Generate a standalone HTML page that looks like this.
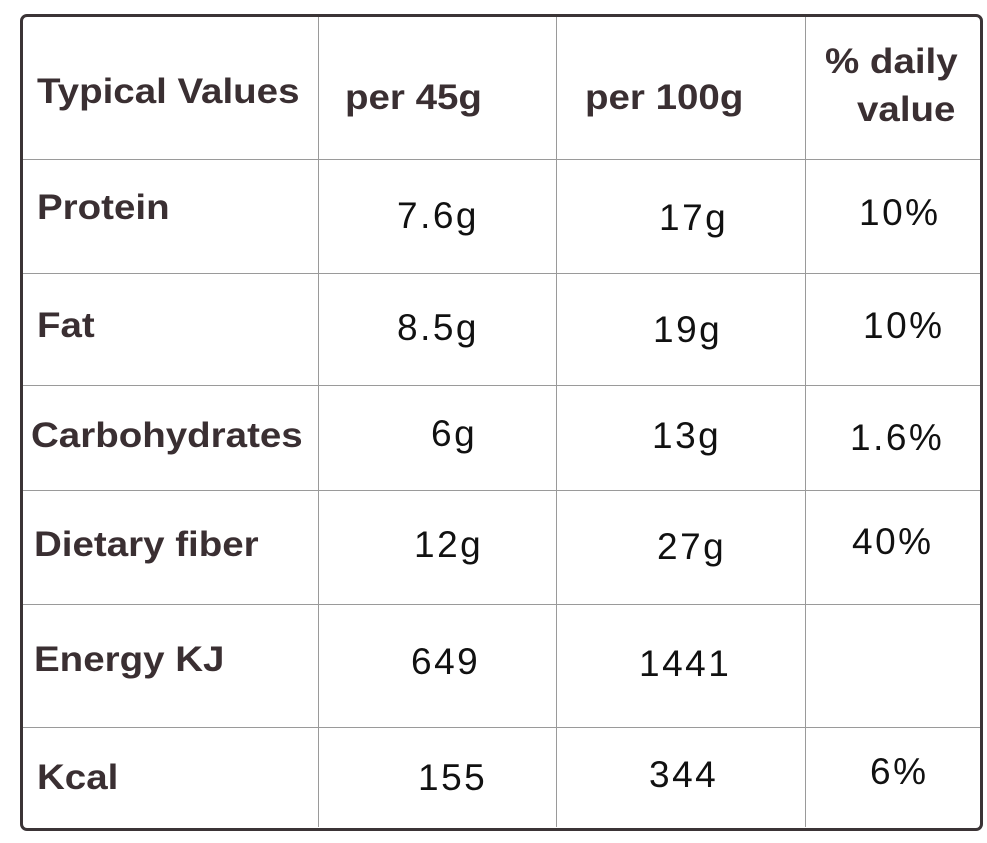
<!DOCTYPE html>
<html><head><meta charset="utf-8">
<style>
body{margin:0;width:987px;height:843px;background:#fff;position:relative;overflow:hidden;font-family:"Liberation Sans",sans-serif;}
.frame{position:absolute;left:20px;top:14px;width:957px;height:811px;border:3px solid #3b3436;border-radius:7px;}
.vl{position:absolute;width:1px;background:#9a9a9a;top:17px;height:810px;}
.hl{position:absolute;height:1px;background:#9a9a9a;left:23px;width:957px;}
.t{position:absolute;white-space:nowrap;transform-origin:left center;}
.h{font-weight:bold;color:#3a2f32;font-size:35px;transform:translateY(-50%) scaleX(1.1);}
.v{color:#111;font-size:37px;letter-spacing:2.5px;transform:translateY(-50%);}
</style></head><body>
<div class="frame"></div>
<div class="vl" style="left:318px"></div>
<div class="vl" style="left:556px"></div>
<div class="vl" style="left:805px"></div>
<div class="hl" style="top:159px"></div>
<div class="hl" style="top:273px"></div>
<div class="hl" style="top:385px"></div>
<div class="hl" style="top:490px"></div>
<div class="hl" style="top:604px"></div>
<div class="hl" style="top:727px"></div>

<div class="t h" style="left:37px;top:92px">Typical Values</div>
<div class="t h" style="left:345px;top:98px">per 45g</div>
<div class="t h" style="left:585px;top:98px">per 100g</div>
<div class="t h" style="left:825px;top:62px">% daily</div>
<div class="t h" style="left:857px;top:110px">value</div>

<div class="t h" style="left:37px;top:208px">Protein</div>
<div class="t v" style="left:397px;top:216px">7.6g</div>
<div class="t v" style="left:659px;top:218px">17g</div>
<div class="t v" style="left:859px;top:213px">10%</div>

<div class="t h" style="left:37px;top:326px">Fat</div>
<div class="t v" style="left:397px;top:328px">8.5g</div>
<div class="t v" style="left:653px;top:330px">19g</div>
<div class="t v" style="left:863px;top:326px">10%</div>

<div class="t h" style="left:31px;top:436px">Carbohydrates</div>
<div class="t v" style="left:431px;top:434px">6g</div>
<div class="t v" style="left:652px;top:436px">13g</div>
<div class="t v" style="left:850px;top:438px">1.6%</div>

<div class="t h" style="left:34px;top:545px">Dietary fiber</div>
<div class="t v" style="left:414px;top:545px">12g</div>
<div class="t v" style="left:657px;top:547px">27g</div>
<div class="t v" style="left:852px;top:542px">40%</div>

<div class="t h" style="left:34px;top:660px">Energy KJ</div>
<div class="t v" style="left:411px;top:662px">649</div>
<div class="t v" style="left:639px;top:664px">1441</div>

<div class="t h" style="left:37px;top:778px">Kcal</div>
<div class="t v" style="left:418px;top:778px">155</div>
<div class="t v" style="left:649px;top:775px">344</div>
<div class="t v" style="left:870px;top:772px">6%</div>
</body></html>
